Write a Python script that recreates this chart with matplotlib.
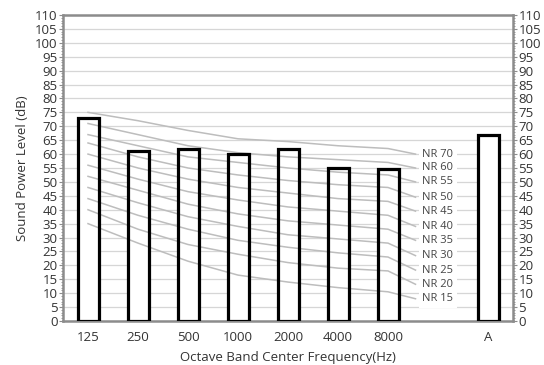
import numpy as np
import matplotlib.pyplot as plt
from matplotlib.ticker import MultipleLocator

plt.rcParams['font.family'] = ['Open Sans', 'DejaVu Sans']

# Octave band categories (slot 7 is left empty for the NR labels)
categories = ['125', '250', '500', '1000', '2000', '4000', '8000', '', 'A']
band_levels = [73, 61, 62, 60, 62, 55, 54.5]
a_level = 67

# NR curves: values at 125..8000 Hz, then the label end point
nr_names = ['NR 70', 'NR 60', 'NR 55', 'NR 50', 'NR 45', 'NR 40',
            'NR 35', 'NR 30', 'NR 25', 'NR 20', 'NR 15']
nr_curves = [
    [75, 72, 68.5, 65.5, 64.5, 63, 62],
    [71, 67, 63, 60.5, 59, 58, 57],
    [67, 63, 59, 57, 55, 53.5, 52.5],
    [64, 59, 55, 52.5, 50.5, 49, 48],
    [60, 55, 51, 48, 46, 44, 43],
    [56, 51, 46.5, 43.5, 41, 39.5, 38],
    [52, 47, 42, 38.5, 36, 34.5, 33],
    [48, 42.5, 37.5, 34, 31, 29.5, 28],
    [44, 38, 33, 29, 26.5, 24.5, 23],
    [40, 33, 27.5, 24, 21, 19, 18],
    [35, 28, 21.5, 16.5, 14, 12, 10.5],
]
nr_label_y = [60, 55, 50, 44.5, 39.5, 34, 29, 23.5, 18.3, 13.2, 8]

fig = plt.figure(figsize=(5.44, 3.65), dpi=100)
ax = fig.add_axes([63 / 544, 44 / 365, 450 / 544, 306 / 365])

x_bars = list(range(7)) + [8]
heights = band_levels + [a_level]
width = 0.42

# white faces under the curves, black outlines on top
ax.bar(x_bars, heights, width=width, color='white', edgecolor='none', zorder=2)
ax.bar(x_bars, heights, width=width, fill=False, edgecolor='black',
       linewidth=2.3, zorder=4)

grey_line = '#bdbdbd'
for name, vals, ly in zip(nr_names, nr_curves, nr_label_y):
    xs = list(range(7)) + [6.55]
    ax.plot(xs, vals + [ly], color=grey_line, linewidth=1.1, zorder=3)
    ax.text(7, ly, name, fontsize=8, color='#444444', ha='center', va='center',
            zorder=5,
            bbox=dict(boxstyle='square,pad=0.3', facecolor='white',
                      edgecolor='none'))

ax.set_xlim(-0.5, 8.5)
ax.set_ylim(0, 110)
ax.set_xticks(range(9))
ax.set_xticklabels(categories)
ax.yaxis.set_major_locator(MultipleLocator(5))
ax.yaxis.set_minor_locator(MultipleLocator(1))
ax.grid(axis='y', color='#d6d6d6', linewidth=0.9, zorder=0)
ax.set_axisbelow(True)

for side in ['left', 'right', 'top', 'bottom']:
    ax.spines[side].set_color('#8c8c8c')
    ax.spines[side].set_linewidth(1.8)

ax.tick_params(axis='x', length=0, labelsize=9.5, labelcolor='#333333', pad=7)
ax.tick_params(axis='y', which='major', length=3, color='#8c8c8c',
               labelsize=9.5, labelcolor='#333333', pad=1,
               left=True, right=True, labelleft=True, labelright=True)
ax.tick_params(axis='y', which='minor', length=1.5, color='#8c8c8c',
               left=True, right=True)

ax.set_xlabel('Octave Band Center Frequency(Hz)', fontsize=9.5, color='#333333',
              labelpad=5)
ax.set_ylabel('Sound Power Level (dB)', fontsize=9.5, color='#333333',
              labelpad=4)

fig.savefig('out.png', dpi=100, facecolor='white')
